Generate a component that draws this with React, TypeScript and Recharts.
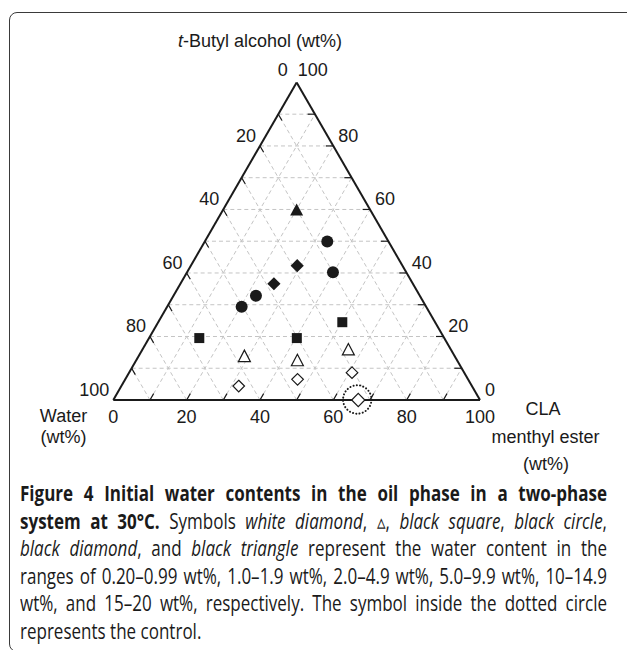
import React from "react";
import { ScatterChart, Scatter, XAxis, YAxis, ReferenceLine } from "recharts";

// t = t-butyl alcohol (wt%), c = CLA menthyl ester (wt%); water is the remainder
const whiteDiamondT = [4.4, 6.5, 8.6];
const whiteDiamondC = [32.0, 47.0, 60.8];
const whiteTriangleT = [13.9, 12.6, 16.0];
const whiteTriangleC = [28.8, 43.9, 56.1];
const blackSquareT = [19.5, 19.5, 24.5];
const blackSquareC = [13.7, 40.3, 50.2];
const blackCircleT = [29.4, 32.8, 40.2, 49.9];
const blackCircleC = [20.3, 22.5, 39.8, 33.4];
const blackDiamondT = [36.6, 42.3];
const blackDiamondC = [25.5, 29.0];
const blackTriangleT = [60];
const blackTriangleC = [20];
const controlT = [0];
const controlC = [66.8];

const gridValues = [10, 20, 30, 40, 50, 60, 70, 80, 90];
const tickLabels = [0, 20, 40, 60, 80, 100];

const W = 627;
const H = 480;
const PX = 3.667; // px per wt% along the base
const X0 = 113.3;
const Y0 = 400;
const FONT = '"Liberation Sans", Arial, sans-serif';
const INK = "#1a1a1a";
const SQ3 = Math.sqrt(3) / 2;

const toXY = (t: number, c: number) => ({ x: c + t / 2, y: t * SQ3 });
const pts = (ts: number[], cs: number[]) => ts.map((t, i) => toXY(t, cs[i]));

const labelData = [
  ...tickLabels.map((v) => ({ ...toXY(0, v), text: String(v), side: "bottom" })),
  ...tickLabels.map((v) => ({ ...toXY(100 - v, 0), text: String(v), side: "left" })),
  ...tickLabels.map((v) => ({ ...toXY(v, 100 - v), text: String(v), side: "right" })),
];

const TickLabel = (p: any) => {
  const side = p.payload.side;
  const apex = p.payload.y > 80;
  const anchor = side === "bottom" ? "middle" : side === "left" ? "end" : "start";
  const dx = side === "bottom" ? 0 : side === "left" ? (apex ? -9 : -4) : apex ? 1 : 5;
  const dy = side === "bottom" ? 23 : apex ? -6 : -4;
  return (
    <text x={p.cx + dx} y={p.cy + dy} textAnchor={anchor} fontFamily={FONT} fontSize={18} fill={INK}>
      {p.payload.text}
    </text>
  );
};

const dia = (cx: number, cy: number, r: number) =>
  `${cx},${cy - r} ${cx + r},${cy} ${cx},${cy + r} ${cx - r},${cy}`;
const tri = (cx: number, cy: number, w: number, h: number) =>
  `${cx},${cy - h / 2} ${cx + w / 2},${cy + h / 2} ${cx - w / 2},${cy + h / 2}`;

const BlackCircle = (p: any) => <circle cx={p.cx} cy={p.cy} r={6} fill={INK} />;
const BlackSquare = (p: any) => <rect x={p.cx - 5} y={p.cy - 5} width={10} height={10} fill={INK} />;
const BlackDiamond = (p: any) => <polygon points={dia(p.cx, p.cy, 6.6)} fill={INK} />;
const BlackTriangle = (p: any) => <polygon points={tri(p.cx, p.cy, 13, 12)} fill={INK} />;
const WhiteTriangle = (p: any) => (
  <polygon points={tri(p.cx, p.cy, 12, 11.5)} fill="#fff" stroke={INK} strokeWidth={1.2} />
);
const WhiteDiamond = (p: any) => (
  <polygon points={dia(p.cx, p.cy, 5.8)} fill="#fff" stroke={INK} strokeWidth={1.2} />
);
const Control = (p: any) => (
  <g>
    <circle cx={p.cx - 1} cy={p.cy - 0.5} r={14.2} fill="none" stroke={INK} strokeWidth={2}
      strokeDasharray="0.1 3.2" strokeLinecap="round" />
    <polygon points={dia(p.cx, p.cy, 6.6)} fill="#fff" stroke={INK} strokeWidth={1.2} />
  </g>
);

const seg = (a: { x: number; y: number }, b: { x: number; y: number }) => [a, b];

const gridSegs = gridValues.flatMap((v) => [
  seg(toXY(v, 0), toXY(v, 100 - v)),
  seg(toXY(0, v), toXY(100 - v, v)),
  seg(toXY(0, 100 - v), toXY(100 - v, 0)),
]);
const TL = 2;
const tickSegs = gridValues.flatMap((v) => [
  seg(toXY(0, v), toXY(TL, v)),
  seg(toXY(v, 100 - v), toXY(v, 100 - v - TL)),
  seg(toXY(100 - v, 0), toXY(100 - v - TL, TL)),
]);
const edgeSegs = [
  seg(toXY(0, 0), toXY(0, 100)),
  seg(toXY(0, 100), toXY(100, 0)),
  seg(toXY(100, 0), toXY(0, 0)),
];

const Ternary = () => (
  <ScatterChart width={W} height={H} margin={{ top: 0, right: 0, bottom: 0, left: 0 }}>
    <XAxis type="number" dataKey="x" domain={[-X0 / PX, (W - X0) / PX]} allowDataOverflow hide />
    <YAxis type="number" dataKey="y" domain={[-(H - Y0) / PX, Y0 / PX]} allowDataOverflow hide />
    {gridSegs.map((s, i) => (
      <ReferenceLine key={"g" + i} segment={s} stroke="#c4c4c4" strokeWidth={1} strokeDasharray="4 3" />
    ))}
    {tickSegs.map((s, i) => (
      <ReferenceLine key={"t" + i} segment={s} stroke={INK} strokeWidth={1.2} />
    ))}
    {edgeSegs.map((s, i) => (
      <ReferenceLine key={"e" + i} segment={s} stroke={INK} strokeWidth={2} />
    ))}
    <Scatter data={pts(whiteDiamondT, whiteDiamondC)} shape={WhiteDiamond} isAnimationActive={false} />
    <Scatter data={pts(whiteTriangleT, whiteTriangleC)} shape={WhiteTriangle} isAnimationActive={false} />
    <Scatter data={pts(blackSquareT, blackSquareC)} shape={BlackSquare} isAnimationActive={false} />
    <Scatter data={pts(blackCircleT, blackCircleC)} shape={BlackCircle} isAnimationActive={false} />
    <Scatter data={pts(blackDiamondT, blackDiamondC)} shape={BlackDiamond} isAnimationActive={false} />
    <Scatter data={pts(blackTriangleT, blackTriangleC)} shape={BlackTriangle} isAnimationActive={false} />
    <Scatter data={pts(controlT, controlC)} shape={Control} isAnimationActive={false} />
    <Scatter data={labelData} shape={TickLabel} isAnimationActive={false} />
  </ScatterChart>
);

const CAP_SCALE = 0.81;
const CAP_W = 587;
const capLine = (last = false): React.CSSProperties => ({
  textAlign: last ? "left" : "justify",
  textAlignLast: last ? "left" : "justify",
  height: 27.5,
});

export default function App() {
  return (
    <div style={{ position: "absolute", left: 0, top: 0, width: W, height: 650, overflow: "hidden", background: "#fff" }}>
      <div style={{ position: "absolute", left: 9, top: 12, width: 700, height: 640, boxSizing: "border-box",
        border: "1.5px solid #3a3a3a", borderRadius: 8 }} />
      <div style={{ position: "absolute", left: 0, top: 0 }}>
        <Ternary />
      </div>
      <svg width={W} height={650} style={{ position: "absolute", left: 0, top: 0, pointerEvents: "none" }}>
        <g fontFamily={FONT} fontSize={18} fill={INK} textAnchor="middle">
          <text x={260} y={47}><tspan fontStyle="italic">t</tspan>-Butyl alcohol (wt%)</text>
          <text x={63.5} y={422}>Water</text>
          <text x={63.5} y={443}>(wt%)</text>
          <text x={543} y={415}>CLA</text>
          <text x={545.5} y={443}>menthyl ester</text>
          <text x={546} y={470}>(wt%)</text>
        </g>
      </svg>
      <div style={{ position: "absolute", left: 20, top: 480, width: CAP_W / CAP_SCALE, transform: `scaleX(${CAP_SCALE})`,
        transformOrigin: "left top", fontFamily: '"Open Sans", sans-serif', fontSize: 21, lineHeight: "27.5px", color: INK }}>
        <div style={capLine()}><b>Figure 4 Initial water contents in the oil phase in a two-phase</b></div>
        <div style={capLine()}><b>system at 30°C.</b> Symbols <i>white diamond</i>, ▵, <i>black square</i>, <i>black circle</i>,</div>
        <div style={capLine()}><i>black diamond</i>, and <i>black triangle</i> represent the water content in the</div>
        <div style={capLine()}>ranges of 0.20–0.99 wt%, 1.0–1.9 wt%, 2.0–4.9 wt%, 5.0–9.9 wt%, 10–14.9</div>
        <div style={capLine()}>wt%, and 15–20 wt%, respectively. The symbol inside the dotted circle</div>
        <div style={capLine(true)}>represents the control.</div>
      </div>
    </div>
  );
}
